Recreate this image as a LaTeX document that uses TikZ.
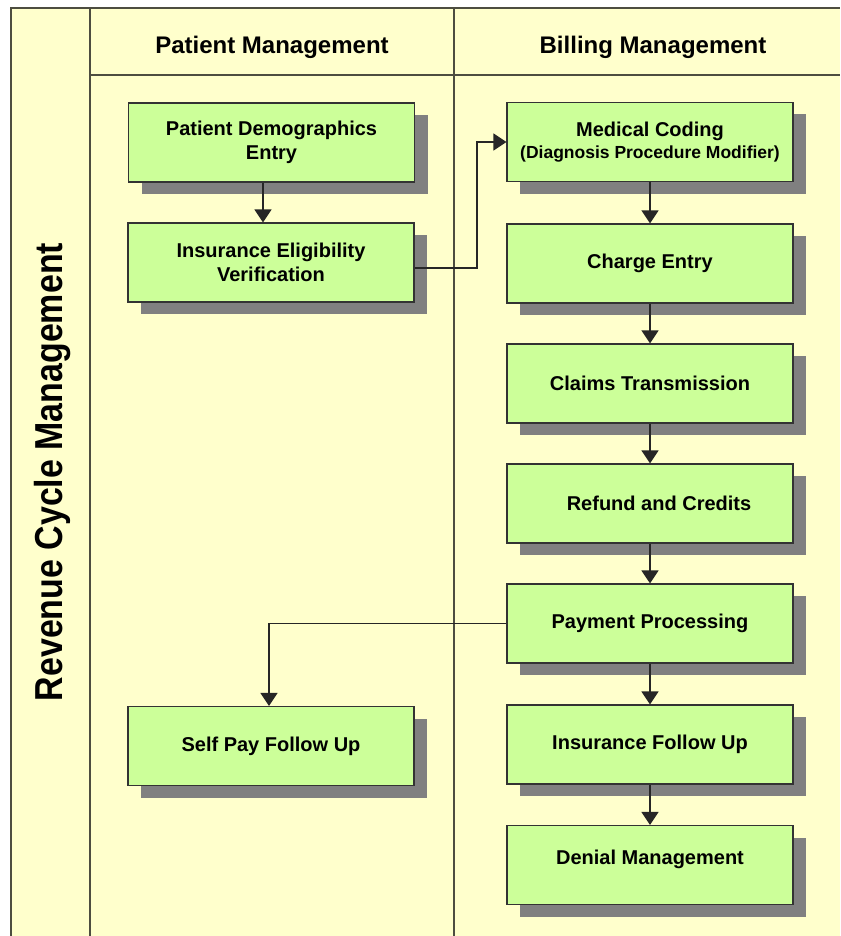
\documentclass[tikz,border=0pt]{standalone}
\usepackage{fontspec}
\setmainfont{Liberation Sans}
\newfontfamily\titlefont[FakeStretch=0.87]{Liberation Sans}
\usetikzlibrary{arrows.meta,shadows}
\definecolor{bg}{HTML}{FFFFCC}
\definecolor{boxg}{HTML}{CCFF99}
\definecolor{lanec}{HTML}{4D4D40}
\begin{document}
\begin{tikzpicture}[x=1pt,y=-1pt,
  procbox/.style={draw=black!80, line width=1.2pt, fill=boxg,
    minimum width=286pt, minimum height=79pt, inner sep=0pt, align=center,
    font=\bfseries\fontsize{20}{24}\selectfont,
    drop shadow={shadow xshift=13pt, shadow yshift=-12pt, fill=black!50, opacity=1}},
  flow/.style={draw=black!85, line width=1.3pt, -{Triangle[width=17pt,length=13pt]}},
  lane/.style={draw=lanec, line width=2pt},
  head/.style={font=\bfseries\fontsize{24}{28}\selectfont, inner sep=0pt}]
\useasboundingbox (0,0) rectangle (840,936);
\fill[bg] (11,8) rectangle (840,936);
\draw[lane] (11,936) -- (11,8) -- (840,8);
\draw[lane] (90,8) -- (90,936);
\draw[lane] (454,8) -- (454,936);
\draw[lane] (90,75) -- (840,75);

\node[rotate=90, inner sep=0pt, font=\titlefont\bfseries\fontsize{39}{44}\selectfont] (title) at (53,472) {Revenue Cycle Management};
\node[head] (hpm) at (272,47) {Patient Management};
\node[head] (hbm) at (653,47) {Billing Management};

\node[procbox] (pde) at (271.5,142.5) {Patient Demographics\\Entry};
\node[procbox] (iev) at (271,262.5) {Insurance Eligibility\\Verification};
\node[procbox] (spf) at (271,746) {Self Pay Follow Up};

\node[procbox] (mc) at (650,142) {Medical Coding\\[-2pt]{\fontsize{17.5}{20}\selectfont (Diagnosis Procedure Modifier)}};
\node[procbox] (ce) at (650,263.5) {Charge Entry};
\node[procbox] (ct) at (650,383.5) {Claims Transmission};
\node[procbox] (rc) at (650,503.5) {\hspace{18pt}Refund and Credits};
\node[procbox] (pp) at (650,623.5) {Payment Processing};
\node[procbox] (ifu) at (650,744.5) {Insurance Follow Up};
\node[procbox] (dm) at (650,865) {\raisebox{16pt}{Denial Management}};

\coordinate (xl) at (263,0);
\coordinate (jog) at (477,0);
\draw[flow] (pde.south -| xl) -- (iev.north -| xl);
\draw[flow] ([yshift=-5.5pt]iev.east) -| (jog |- mc.west) -- (mc.west);
\draw[flow] (mc.south) -- (ce.north);
\draw[flow] (ce.south) -- (ct.north);
\draw[flow] (ct.south) -- (rc.north);
\draw[flow] (rc.south) -- (pp.north);
\draw[flow] (pp.south) -- (ifu.north);
\draw[flow] (ifu.south) -- (dm.north);
\draw[flow] (pp.west) -| ([xshift=-2pt]spf.north);
\end{tikzpicture}
\end{document}
